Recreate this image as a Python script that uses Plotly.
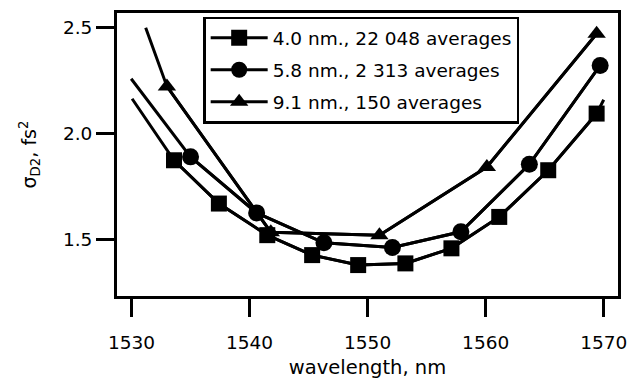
import plotly.graph_objects as go

# ---- data ----
wl_40 = [1533.6, 1537.4, 1541.5, 1545.3, 1549.2, 1553.2, 1557.1, 1561.15, 1565.3, 1569.4]
sig_40 = [1.873, 1.669, 1.520, 1.426, 1.379, 1.387, 1.458, 1.606, 1.826, 2.093]
wl_40_line = [1530.05] + wl_40 + [1570.0]
sig_40_line = [2.163] + sig_40 + [2.158]

wl_58 = [1535.0, 1540.6, 1546.3, 1552.1, 1557.9, 1563.7, 1569.7]
sig_58 = [1.889, 1.625, 1.484, 1.462, 1.536, 1.854, 2.320]
wl_58_line = [1529.97] + wl_58
sig_58_line = [2.257] + sig_58

wl_91 = [1533.0, 1541.8, 1551.0, 1560.1, 1569.4]
sig_91 = [2.221, 1.534, 1.520, 1.841, 2.469]
wl_91_line = [1531.2] + wl_91
sig_91_line = [2.497] + sig_91

names = ["4.0 nm., 22 048 averages", "5.8 nm., 2 313 averages", "9.1 nm., 150 averages"]
x_ticks = [1530, 1540, 1550, 1560, 1570]
y_ticks = [1.5, 2.0, 2.5]
y_ticklabels = ["1.5", "2.0", "2.5"]

FONT = "DejaVu Sans, Liberation Sans, Arial, sans-serif"
LW = 3

series = [
    (wl_40_line, sig_40_line, wl_40, sig_40, "square", 16, names[0]),
    (wl_58_line, sig_58_line, wl_58, sig_58, "circle", 17, names[1]),
    (wl_91_line, sig_91_line, wl_91, sig_91, "triangle-up", 16, names[2]),
]

fig = go.Figure()
for i, (xl, yl, xm, ym, sym, size, name) in enumerate(series):
    fig.add_trace(go.Scatter(x=xl, y=yl, mode="lines", line=dict(color="black", width=LW),
                             showlegend=False, hoverinfo="skip"))
for i, (xl, yl, xm, ym, sym, size, name) in enumerate(series):
    fig.add_trace(go.Scatter(x=xm, y=ym, mode="lines+markers", name=name,
                             legendgroup=f"g{i}",
                             line=dict(color="black", width=LW),
                             marker=dict(symbol=sym, size=size, color="black",
                                         line=dict(width=0))))

fig.update_layout(
    width=633, height=379,
    paper_bgcolor="white", plot_bgcolor="white",
    margin=dict(l=116.5, r=14.7, t=12.5, b=83, pad=0, autoexpand=False),
    font=dict(family=FONT, size=18.5, color="black"),
    showlegend=True,
    legend=dict(x=0.172, y=0.987, xanchor="left", yanchor="top",
                bgcolor="white", bordercolor="black", borderwidth=2.5,
                font=dict(family=FONT, size=18.5, color="black"),
                itemwidth=57, tracegroupgap=5, itemsizing="trace"),
)
fig.update_xaxes(
    range=[1528.77, 1571.21], tickvals=x_ticks, ticktext=[str(v) for v in x_ticks],
    showgrid=False, zeroline=False, automargin=False,
    showline=True, mirror=True, linecolor="black", linewidth=LW,
    ticks="outside", ticklen=18, tickwidth=LW, tickcolor="black",
    ticklabelstandoff=10,
    tickfont=dict(family=FONT, size=18.5, color="black"),
    title=dict(text="wavelength, nm", font=dict(family=FONT, size=19.5, color="black"), standoff=12),
)
fig.update_yaxes(
    range=[1.2333, 2.567], tickvals=y_ticks, ticktext=y_ticklabels,
    showgrid=False, zeroline=False, automargin=False,
    showline=True, mirror=True, linecolor="black", linewidth=LW,
    ticks="outside", ticklen=18, tickwidth=LW, tickcolor="black",
    tickfont=dict(family=FONT, size=18.5, color="black"),
    title=dict(text="σ<sub>D2</sub>, fs<sup>2</sup>", font=dict(family=FONT, size=19, color="black"), standoff=22),
)

fig.write_html("out.html", config={"displayModeBar": False},
               post_script="document.body.style.margin='0';document.body.style.padding='0';")
